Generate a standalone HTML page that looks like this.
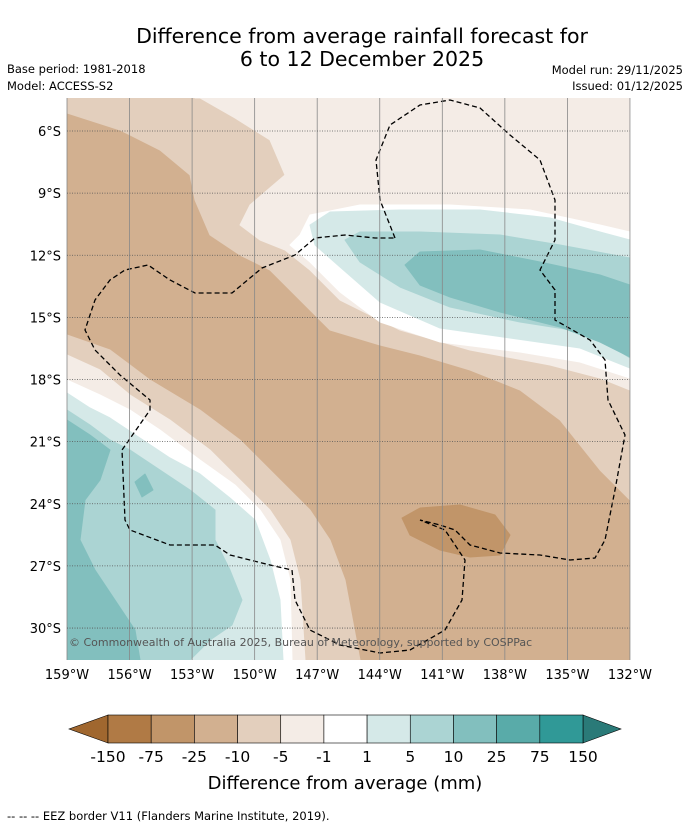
<!DOCTYPE html>
<html><head><meta charset="utf-8"><style>
body{margin:0;background:#fff;width:690px;height:827px;overflow:hidden;font-family:"DejaVu Sans","Liberation Sans",sans-serif;}
svg text{font-family:"DejaVu Sans","Liberation Sans",sans-serif;}
</style></head><body>
<svg id="chart" width="690" height="827" xmlns="http://www.w3.org/2000/svg">
<text x="362" y="43" font-size="20.5" text-anchor="middle">Difference from average rainfall forecast for</text>
<text x="362" y="66" font-size="20.5" text-anchor="middle">6 to 12 December 2025</text>
<text x="7" y="73" font-size="11.5">Base period: 1981-2018</text>
<text x="7" y="90" font-size="11.5">Model: ACCESS-S2</text>
<text x="683" y="74" font-size="11.5" text-anchor="end">Model run: 29/11/2025</text>
<text x="683" y="90" font-size="11.5" text-anchor="end">Issued: 01/12/2025</text>
<defs><clipPath id="mc"><rect x="67" y="98" width="563" height="562"/></clipPath></defs>
<g id="map" clip-path="url(#mc)"></g>
<g id="axes"></g>
<g id="cbar"></g>
<text x="345" y="789" font-size="18" text-anchor="middle">Difference from average (mm)</text>
<text x="7" y="820" font-size="11.5">--  --  -- EEZ border V11 (Flanders Marine Institute, 2019).</text>
</svg>
<script>
const lonTicks=[-159,-156,-153,-150,-147,-144,-141,-138,-135,-132];
const latTicks=[6,9,12,15,18,21,24,27,30];
const cbLabels=["-150","-75","-25","-10","-5","-1","1","5","10","25","75","150"];
const cbColors=["#b07a45","#c19569","#d2b090","#e3cfbd","#f4ece6","#ffffff","#d5e9e8","#abd4d3","#82bfbe","#59aba9","#309997"];
const NS="http://www.w3.org/2000/svg";
const xLon=lon=>67+(lon+159)*20.85;
const yLat=lat=>131+(lat-6)*20.71;
function mk(tag,at,parent){const e=document.createElementNS(NS,tag);for(const k in at)e.setAttribute(k,at[k]);parent.appendChild(e);return e;}
const map=document.getElementById('map');
const layers=[
["#d2b090","67,98 630,98 630,660 67,660"],
["#e3cfbd","67,98 630,98 630,500 600,470 560,420 520,390 470,370 420,355 380,345 330,330 300,300 270,270 240,255 210,235 195,200 190,175 160,150 120,130 67,113"],
["#f4ece6","195,98 630,98 630,390 600,378 550,365 470,350 400,330 340,300 310,270 285,250 260,240 240,225 250,205 285,175 270,140 235,118 200,98"],
["#ffffff","300,235 310,215 360,205 450,205 530,210 600,225 630,232 630,378 580,362 520,352 440,342 380,322 340,292 310,262 290,245"],
["#d5e9e8","310,225 330,212 400,210 480,210 550,218 600,232 630,240 630,368 580,348 510,338 440,328 380,302 340,267 315,245"],
["#abd4d3","345,240 360,232 420,232 500,235 560,245 630,258 630,358 590,333 520,322 450,307 400,287 360,262"],
["#82bfbe","405,265 420,252 480,250 540,262 600,275 630,285 630,357 600,342 560,327 500,312 450,297 420,285"],
["#e3cfbd","67,335 110,350 150,380 200,410 240,440 280,480 310,510 330,540 345,580 360,660 67,660"],
["#f4ece6","67,355 100,370 130,395 170,420 210,450 240,480 270,510 290,540 300,580 305,660 67,660"],
["#ffffff","67,380 100,395 130,410 160,430 200,460 235,485 260,510 280,540 290,580 292,660 67,660"],
["#d5e9e8","67,393 90,408 110,418 140,438 170,458 200,474 230,498 255,520 270,560 280,600 283,660 67,660"],
["#abd4d3","67,410 90,425 110,440 130,450 160,470 190,490 215,510 215,540 230,570 242,600 232,625 210,640 190,660 67,660"],
["#82bfbe","67,420 90,435 110,450 100,480 85,500 80,540 95,570 115,600 135,630 140,660 67,660"],
["#82bfbe","135,482 145,474 153,490 142,497"],
["#c19569","402,518 420,508 460,505 495,515 510,535 500,555 470,557 440,550 410,535"]];
layers.forEach((l,i)=>{const p=mk('polygon',{points:l[1],fill:l[0],stroke:l[0],'stroke-width':1,'stroke-linejoin':'round'},map);

});
const eez="M395,238 L380,200 L376,160 L390,125 L420,105 L450,100 L480,108 L510,135 L540,160 L555,200 L555,240 L540,270 L555,290 L555,320 L590,340 L605,360 L608,400 L625,435 L615,490 L605,540 L595,558 L570,560 L540,555 L500,553 L470,545 L455,530 L440,525 L420,520 L445,530 L465,560 L462,600 L445,630 L410,650 L380,653 L340,645 L310,630 L295,600 L292,570 L270,565 L250,560 L230,555 L215,545 L170,545 L130,530 L125,520 L122,450 L150,410 L150,400 L120,375 L95,350 L85,330 L95,300 L110,280 L125,270 L148,265 L170,280 L195,293 L232,293 L262,268 L295,255 L315,238 L345,235 L375,238 Z";
const ez=mk('path',{d:eez,fill:'none',stroke:'#000','stroke-width':1.3,'stroke-dasharray':'5,3'},map);


const ax=document.getElementById('axes');
lonTicks.forEach(lon=>{const x=xLon(lon);
const g=mk('line',{x1:x,y1:98,x2:x,y2:660,stroke:'#888','stroke-width':0.8},ax);


const t=mk('text',{x:x,y:679,'font-size':13,'text-anchor':'middle'},ax);t.textContent=Math.abs(lon)+'°W';

});
latTicks.forEach(lat=>{const y=yLat(lat);
const g=mk('line',{x1:67,y1:y,x2:630,y2:y,stroke:'#555','stroke-width':0.8,'stroke-dasharray':'1,1.5'},ax);


const t=mk('text',{x:61,y:y+5,'font-size':13,'text-anchor':'end'},ax);t.textContent=lat+'°S';

});
const cp=mk('text',{x:69,y:646,'font-size':11,fill:'#555'},ax);cp.textContent='© Commonwealth of Australia 2025, Bureau of Meteorology, supported by COSPPac';


const cb=document.getElementById('cbar');
const x0=108,x1=583,bw=(x1-x0)/cbColors.length,yT=715,yB=743;
const lt=mk('polygon',{points:`${x0},${yT} 69,${(yT+yB)/2} ${x0},${yB}`,fill:'#a0672f',stroke:'#000','stroke-width':0.6},cb);


const rt=mk('polygon',{points:`${x1},${yT} 621,${(yT+yB)/2} ${x1},${yB}`,fill:'#2a7a78',stroke:'#000','stroke-width':0.6},cb);


cbColors.forEach((c,i)=>{const r=mk('rect',{x:x0+i*bw,y:yT,width:bw,height:yB-yT,fill:c,stroke:'#000','stroke-width':0.6},cb);

});
cbLabels.forEach((s,i)=>{const t=mk('text',{x:x0+i*bw,y:762,'font-size':15.5,'text-anchor':'middle'},cb);t.textContent=s;

});
</script>
</body></html>
